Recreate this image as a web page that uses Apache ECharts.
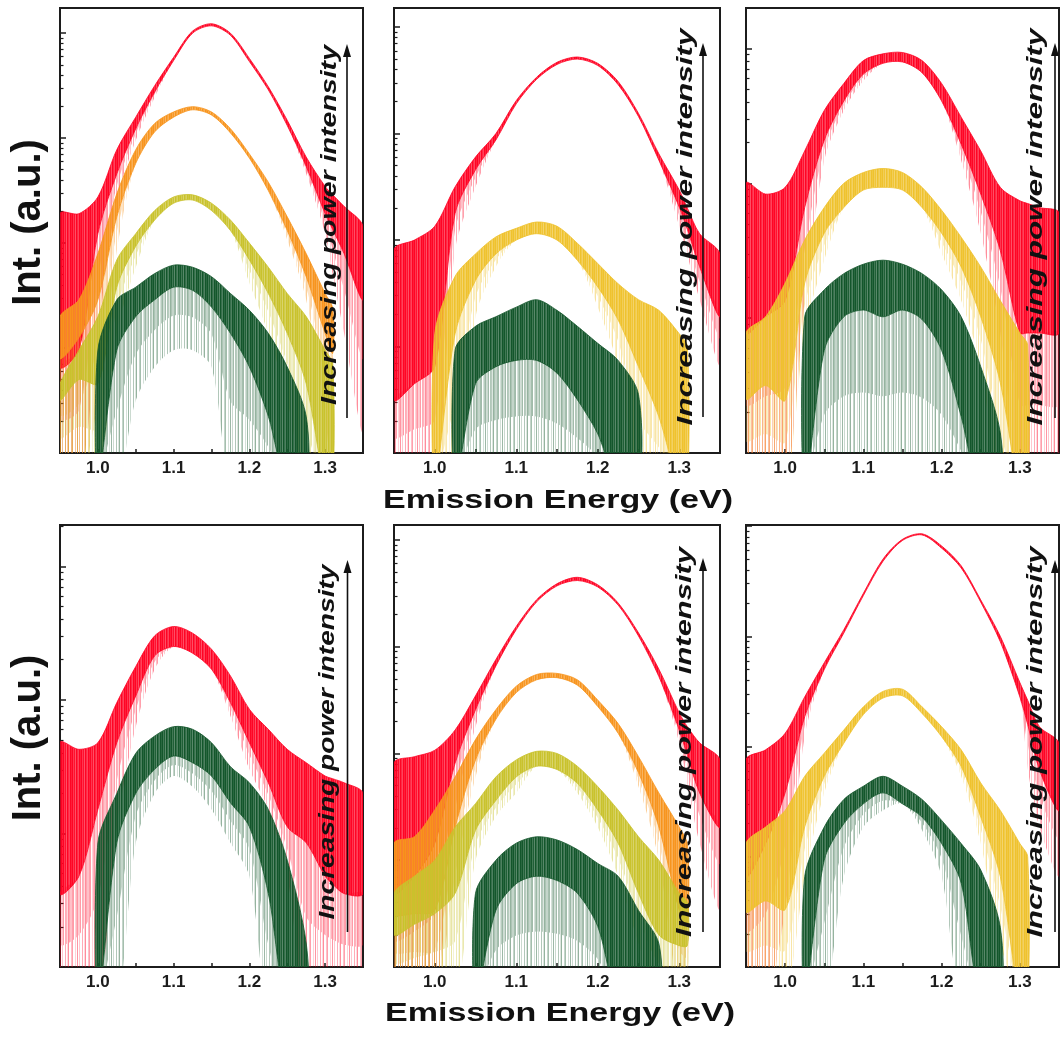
<!DOCTYPE html>
<html>
<head>
<meta charset="utf-8">
<script src="https://cdn.jsdelivr.net/npm/echarts@6/dist/echarts.min.js"></script>
<style>
  html, body { margin: 0; padding: 0; background: #fff; }
  #chart { width: 1062px; height: 1038px; }
</style>
</head>
<body>
<div id="chart"></div>
<script>
// Emission energy grid (eV) shared by every spectrum
const energy = [0.95, 0.975, 1.0, 1.025, 1.05, 1.075, 1.1, 1.125, 1.15, 1.175, 1.2, 1.225, 1.25, 1.275, 1.3, 1.31, 1.325, 1.35];
const xTickLabels = ['1.0', '1.1', '1.2', '1.3'];

// Intensities as log10(counts). "Hi"/"Lo" bound the dense part of each trace,
// "Tail" is how far the noise spikes reach below it (null = no spikes).
// Panel a
const aRedHi    = [2.28, 2.28, 2.44, 2.89, 3.20, 3.50, 3.77, 4.02, 4.09, 4.00, 3.76, 3.49, 3.17, 2.82, 2.54, 2.46, 2.35, 2.16];
const aRedLo    = [0.82, 0.98, 2.09, 2.66, 3.09, 3.44, 3.74, 4.00, 4.07, 3.98, 3.73, 3.46, 3.12, 2.73, 2.28, 2.13, 1.90, 1.46];
const aRedTail  = [-0.3, -0.3, 1.14, 2.41, 2.98, 3.39, null, null, null, null, null, null, null, 2.66, 2.09, 1.70, 1.14, 0.19];
const aOrangeHi   = [1.30, 1.46, 1.90, 2.47, 2.89, 3.14, 3.25, 3.30, 3.25, 3.09, 2.85, 2.58, 2.25, 1.90, 1.52, 1.38, null, null];
const aOrangeLo   = [0.90, 1.10, 1.46, 2.25, 2.76, 3.06, 3.20, 3.27, 3.22, 3.05, 2.81, 2.50, 2.12, 1.68, 1.14, 0.95, null, null];
const aOrangeTail = [-0.3, -0.3, 0.50, 1.93, null, null, null, null, null, null, null, null, 2.03, 1.46, 0.35, -0.3, null, null];
const aOliveHi   = [0.66, 0.98, 1.30, 1.84, 2.09, 2.31, 2.44, 2.46, 2.38, 2.22, 2.00, 1.77, 1.52, 1.30, 0.98, 0.85, null, null];
const aOliveLo   = [0.50, 0.70, 0.66, 1.58, 1.97, 2.22, 2.38, 2.41, 2.31, 2.12, 1.84, 1.52, 1.14, 0.66, -0.3, -0.3, null, null];
const aOliveTail = [-0.3, -0.3, -0.3, 1.14, 1.77, null, null, null, null, null, 1.62, 1.14, 0.50, -0.3, -0.3, -0.3, null, null];
const aGreenHi   = [null, null, 0.98, 1.46, 1.58, 1.71, 1.79, 1.77, 1.68, 1.52, 1.36, 1.14, 0.82, 0.35, null, null, null, null];
const aGreenLo   = [null, null, -0.3, 0.98, 1.30, 1.46, 1.58, 1.55, 1.39, 1.14, 0.82, 0.35, -0.3, -0.3, null, null, null, null];
const aGreenTail = [null, null, -0.3, -0.3, 0.50, 0.82, 0.98, 0.98, 0.82, -0.3, -0.3, -0.3, -0.3, -0.3, null, null, null, null];

// Panel b
const bRedHi    = [1.91, 2.00, 2.13, 2.50, 2.78, 3.00, 3.31, 3.53, 3.67, 3.72, 3.66, 3.49, 3.19, 2.81, 2.47, 2.30, 2.06, 1.87];
const bRedLo    = [0.50, 0.65, 0.81, 2.25, 2.66, 2.94, 3.28, 3.51, 3.65, 3.70, 3.64, 3.46, 3.16, 2.75, 2.31, 2.10, 1.75, 1.28];
const bRedTail  = [-0.3, -0.3, -0.3, 1.91, 2.50, null, null, null, null, null, null, null, null, null, 2.13, 1.85, 1.44, 0.81];
const bGoldHi   = [null, null, 1.12, 1.66, 1.87, 2.03, 2.11, 2.17, 2.13, 1.97, 1.78, 1.59, 1.44, 1.34, 1.12, 1.00, null, null];
const bGoldLo   = [null, null, -0.3, 1.12, 1.62, 1.87, 2.00, 2.06, 2.00, 1.81, 1.56, 1.25, 0.81, 0.34, -0.3, -0.3, null, null];
const bGoldTail = [null, null, -0.3, -0.3, 1.28, 1.75, null, null, null, null, 1.37, 0.81, -0.3, -0.3, -0.3, -0.3, null, null];
const bGreenHi   = [null, null, null, 0.97, 1.19, 1.28, 1.37, 1.44, 1.34, 1.19, 1.03, 0.87, 0.55, null, null, null, null, null];
const bGreenLo   = [null, null, null, -0.3, 0.65, 0.81, 0.87, 0.87, 0.75, 0.50, 0.18, -0.3, -0.3, null, null, null, null, null];
const bGreenTail = [null, null, null, -0.3, -0.3, -0.3, -0.3, -0.3, -0.3, -0.3, -0.3, -0.3, -0.3, null, null, null, null, null];

// Panel c
const cRedHi    = [2.00, 1.92, 1.97, 2.24, 2.54, 2.74, 2.91, 2.96, 2.97, 2.91, 2.74, 2.49, 2.24, 1.97, 1.87, 1.85, 1.82, 1.78];
const cRedLo    = [0.89, 1.01, 1.13, 1.82, 2.32, 2.61, 2.81, 2.89, 2.90, 2.82, 2.61, 2.29, 1.92, 1.50, 0.89, 0.89, 0.89, 0.89];
const cRedTail  = [-0.3, -0.3, -0.3, 1.13, 2.17, 2.54, 2.76, null, null, null, null, 2.17, 1.63, 0.89, -0.3, -0.3, -0.3, -0.3];
const cGoldHi   = [0.89, 1.01, 1.26, 1.58, 1.82, 2.00, 2.08, 2.11, 2.08, 1.97, 1.80, 1.60, 1.38, 1.13, 0.89, 0.80, null, null];
const cGoldLo   = [0.40, 0.50, 0.39, 1.26, 1.63, 1.82, 1.95, 1.97, 1.95, 1.82, 1.63, 1.38, 1.01, 0.52, -0.3, -0.3, null, null];
const cGoldTail = [-0.3, -0.3, -0.3, 0.89, 1.43, null, null, null, null, null, 1.48, 1.13, 0.64, -0.3, -0.3, -0.3, null, null];
const cGreenHi   = [null, null, null, 1.01, 1.21, 1.33, 1.40, 1.43, 1.40, 1.33, 1.21, 1.01, 0.64, 0.15, null, null, null, null];
const cGreenLo   = [null, null, null, -0.3, 0.76, 1.01, 1.06, 1.01, 1.06, 0.99, 0.76, 0.27, -0.3, -0.3, null, null, null, null];
const cGreenTail = [null, null, null, -0.3, -0.3, -0.3, -0.3, -0.3, -0.3, -0.3, -0.3, -0.3, -0.3, -0.3, null, null, null, null];

// Panel d
const dRedHi    = [1.68, 1.63, 1.68, 1.98, 2.25, 2.48, 2.55, 2.50, 2.38, 2.18, 1.93, 1.78, 1.63, 1.53, 1.43, 1.41, 1.38, 1.30];
const dRedLo    = [0.55, 0.68, 1.18, 1.68, 2.03, 2.33, 2.40, 2.35, 2.23, 1.98, 1.68, 1.38, 1.05, 0.93, 0.68, 0.62, 0.55, 0.55];
const dRedTail  = [-0.3, -0.3, -0.3, 1.05, 1.80, 2.23, null, null, null, 1.88, 1.48, 1.18, 0.68, -0.3, -0.3, -0.3, -0.3, -0.3];
const dGreenHi   = [null, null, 0.93, 1.30, 1.60, 1.73, 1.80, 1.78, 1.68, 1.50, 1.38, 1.18, 0.80, 0.18, null, null, null, null];
const dGreenLo   = [null, null, -0.3, 0.93, 1.30, 1.48, 1.58, 1.53, 1.43, 1.23, 1.05, 0.55, -0.3, -0.3, null, null, null, null];
const dGreenTail = [null, null, -0.3, -0.3, 0.93, 1.30, 1.43, 1.35, 1.18, 0.93, 0.68, -0.3, -0.3, -0.3, null, null, null, null];

// Panel e
const eRedHi    = [1.91, 1.97, 2.03, 2.22, 2.54, 2.88, 3.19, 3.44, 3.59, 3.65, 3.58, 3.41, 3.13, 2.79, 2.38, 2.25, 2.10, 1.94];
const eRedLo    = [0.69, 0.85, 1.16, 1.91, 2.41, 2.82, 3.16, 3.42, 3.57, 3.62, 3.56, 3.39, 3.10, 2.72, 2.22, 1.98, 1.63, 1.31];
const eRedTail  = [-0.3, -0.3, -0.3, 1.47, 2.25, null, null, null, null, null, null, null, null, null, 2.10, 1.70, 1.16, 0.53];
const eOrangeHi   = [1.16, 1.22, 1.47, 1.78, 2.13, 2.41, 2.63, 2.74, 2.75, 2.69, 2.50, 2.28, 1.97, 1.63, 1.31, 1.15, null, null];
const eOrangeLo   = [0.50, 0.50, 0.53, 1.31, 1.94, 2.32, 2.57, 2.69, 2.71, 2.64, 2.44, 2.19, 1.82, 1.31, 0.53, 0.40, null, null];
const eOrangeTail = [-0.3, -0.3, -0.3, 0.85, 1.78, null, null, null, null, null, null, null, 1.69, 1.00, -0.3, -0.3, null, null];
const eOliveHi   = [0.69, 0.85, 1.00, 1.31, 1.53, 1.78, 1.94, 2.02, 2.00, 1.88, 1.69, 1.47, 1.22, 1.00, 0.69, 0.60, null, null];
const eOliveLo   = [0.30, 0.40, 0.50, 0.69, 1.28, 1.56, 1.78, 1.88, 1.85, 1.72, 1.47, 1.16, 0.69, 0.30, 0.20, 0.20, null, null];
const eOliveTail = [-0.3, -0.3, -0.3, -0.3, 1.00, 1.41, 1.63, null, null, 1.63, 1.31, 0.85, 0.22, -0.3, -0.3, -0.3, null, null];
const eGreenHi   = [null, null, null, null, 0.69, 1.00, 1.16, 1.22, 1.19, 1.10, 0.97, 0.85, 0.53, 0.22, null, null, null, null];
const eGreenLo   = [null, null, null, null, -0.3, 0.53, 0.78, 0.85, 0.81, 0.69, 0.38, -0.3, -0.3, -0.3, null, null, null, null];
const eGreenTail = [null, null, null, null, -0.3, -0.3, -0.3, -0.3, -0.3, -0.3, -0.3, -0.3, -0.3, -0.3, null, null, null, null];

// Panel f
const fRedHi    = [1.88, 1.97, 2.12, 2.45, 2.76, 3.06, 3.39, 3.70, 3.88, 3.93, 3.82, 3.64, 3.33, 3.00, 2.58, 2.42, 2.18, 2.03];
const fRedLo    = [0.82, 1.12, 1.58, 2.27, 2.70, 3.03, 3.37, 3.68, 3.87, 3.92, 3.80, 3.62, 3.31, 2.95, 2.45, 2.20, 1.79, 1.42];
const fRedTail  = [-0.3, -0.3, 0.52, 2.09, null, null, null, null, null, null, null, null, null, null, null, 1.80, 1.27, 0.82];
const fGoldHi   = [1.12, 1.27, 1.42, 1.73, 1.94, 2.15, 2.36, 2.50, 2.52, 2.36, 2.18, 1.97, 1.67, 1.42, 1.12, 1.00, null, null];
const fGoldLo   = [0.50, 0.60, 0.52, 1.27, 1.73, 2.03, 2.29, 2.44, 2.46, 2.30, 2.09, 1.82, 1.36, 0.82, -0.3, -0.3, null, null];
const fGoldTail = [-0.3, -0.3, -0.3, 0.82, 1.58, null, null, null, null, null, null, 1.73, 1.12, 0.21, -0.3, -0.3, null, null];
const fGreenHi   = [null, null, null, 0.82, 1.27, 1.52, 1.64, 1.73, 1.64, 1.52, 1.33, 1.12, 0.88, 0.36, null, null, null, null];
const fGreenLo   = [null, null, null, -0.3, 0.97, 1.30, 1.48, 1.58, 1.48, 1.36, 1.12, 0.76, -0.3, -0.3, null, null, null, null];
const fGreenTail = [null, null, null, -0.3, -0.3, 0.82, 1.27, 1.42, null, 1.24, 0.82, -0.3, -0.3, -0.3, null, null, null, null];

// ---- styling & layout ----
const FONT = '"Liberation Sans", Arial, Helvetica, sans-serif';
const INK = '#1c1c1c';
const palette = {
  red: '#ff0424', orange: '#f7941d', olive: '#c9c22c', gold: '#efc22d', green: '#13562b'
};

const panels = [
  { grid: { left: 60,  top: 8,   width: 303, height: 445 }, yMax: 4.24,
    arrow: { x: 347, tip: 44, tail: 418 }, note: { x: 330, cy: 225, len: 360 },
    curves: [
      { color: 'red', hi: aRedHi, lo: aRedLo, tail: aRedTail },
      { color: 'orange', hi: aOrangeHi, lo: aOrangeLo, tail: aOrangeTail },
      { color: 'olive', hi: aOliveHi, lo: aOliveLo, tail: aOliveTail },
      { color: 'green', hi: aGreenHi, lo: aGreenLo, tail: aGreenTail }
    ] },
  { grid: { left: 394, top: 8,   width: 326, height: 445 }, yMax: 4.18,
    arrow: { x: 703, tip: 43, tail: 417 }, note: { x: 686, cy: 227, len: 397 },
    curves: [
      { color: 'red', hi: bRedHi, lo: bRedLo, tail: bRedTail },
      { color: 'gold', hi: bGoldHi, lo: bGoldLo, tail: bGoldTail },
      { color: 'green', hi: bGreenHi, lo: bGreenLo, tail: bGreenTail }
    ] },
  { grid: { left: 746, top: 8,   width: 326, height: 445 }, yMax: 3.30,
    arrow: { x: 1055, tip: 43, tail: 418 }, note: { x: 1036, cy: 227, len: 397 },
    curves: [
      { color: 'red', hi: cRedHi, lo: cRedLo, tail: cRedTail },
      { color: 'gold', hi: cGoldHi, lo: cGoldLo, tail: cGoldTail },
      { color: 'green', hi: cGreenHi, lo: cGreenLo, tail: cGreenTail }
    ] },
  { grid: { left: 60,  top: 525, width: 303, height: 442 }, yMax: 3.31,
    arrow: { x: 347.5, tip: 560, tail: 932 }, note: { x: 328, cy: 742, len: 355 },
    curves: [
      { color: 'red', hi: dRedHi, lo: dRedLo, tail: dRedTail },
      { color: 'green', hi: dGreenHi, lo: dGreenLo, tail: dGreenTail }
    ] },
  { grid: { left: 394, top: 525, width: 326, height: 442 }, yMax: 4.14,
    arrow: { x: 703, tip: 558, tail: 932 }, note: { x: 685, cy: 742, len: 390 },
    curves: [
      { color: 'red', hi: eRedHi, lo: eRedLo, tail: eRedTail },
      { color: 'orange', hi: eOrangeHi, lo: eOrangeLo, tail: eOrangeTail },
      { color: 'olive', hi: eOliveHi, lo: eOliveLo, tail: eOliveTail },
      { color: 'green', hi: eGreenHi, lo: eGreenLo, tail: eGreenTail }
    ] },
  { grid: { left: 746, top: 525, width: 326, height: 442 }, yMax: 4.01,
    arrow: { x: 1055, tip: 560, tail: 932 }, note: { x: 1036, cy: 742, len: 391 },
    curves: [
      { color: 'red', hi: fRedHi, lo: fRedLo, tail: fRedTail },
      { color: 'gold', hi: fGoldHi, lo: fGoldLo, tail: fGoldTail },
      { color: 'green', hi: fGreenHi, lo: fGreenLo, tail: fGreenTail }
    ] }
];

// Striped fills: vertical hairlines of varying strength that read as detector noise
function stripes(color, cols, width) {
  const c = document.createElement('canvas');
  c.width = width; c.height = 4;
  const g = c.getContext('2d');
  g.fillStyle = color;
  cols.forEach(([x, a]) => { g.globalAlpha = a; g.fillRect(x, 0, 1, 4); });
  return { image: c, repeat: 'repeat' };
}
const coreCols  = [[0, 1], [1, 0.8], [2, 0.95], [3, 0.7], [4, 1], [5, 0.85], [6, 0.75], [7, 1], [8, 0.9]];
const tailCols  = [[0, 0.45], [3, 0.25], [4, 0.38], [7, 0.18], [9, 0.42], [11, 0.22], [14, 0.33], [16, 0.15]];
const innerCols = [[1, 0.35], [2, 0.25], [5, 0.4], [8, 0.3], [10, 0.2], [12, 0.4], [15, 0.3]];
const fills = {};
Object.keys(palette).forEach(k => {
  fills[k] = {
    core: stripes(palette[k], coreCols, 9),
    tail: stripes(palette[k], tailCols, 17),
    inner: stripes(palette[k], innerCols, 17)
  };
});

function measure(font, text) {
  const g = document.createElement('canvas').getContext('2d');
  g.font = font;
  return g.measureText(text).width;
}

// A filled band between two log10-intensity edges, drawn through the axes.
// depth < 1 keeps only the upper part of the band (denser part of the spikes).
function bandSeries(gi, curve, upperKey, lowerKey, fill, stroke, depth) {
  const first = curve.hi.findIndex(v => v != null);
  return {
    type: 'custom',
    xAxisIndex: gi, yAxisIndex: gi,
    clip: true, silent: true,
    data: [[energy[first], 1]],
    renderItem: (params, api) => {
      const top = [], bottom = [];
      for (let i = 0; i < energy.length; i++) {
        if (curve.hi[i] == null) continue;
        const up = curve[upperKey][i];
        let low = curve[lowerKey][i] == null ? up : curve[lowerKey][i];
        if (depth != null) low = up - (up - low) * depth;
        top.push(api.coord([energy[i], Math.pow(10, up)]));
        bottom.push(api.coord([energy[i], Math.pow(10, low)]));
      }
      return {
        type: 'polygon',
        shape: { points: top.concat(bottom.reverse()), smooth: 0.3 },
        style: stroke ? { fill, stroke, lineWidth: 0.8 } : { fill }
      };
    }
  };
}

const grids = [], xAxes = [], yAxes = [], series = [];
panels.forEach((p, gi) => {
  grids.push(Object.assign({ show: true, borderColor: INK, borderWidth: 2, backgroundColor: 'transparent' }, p.grid));
  xAxes.push({
    gridIndex: gi, type: 'value', min: 0.95, max: 1.35, interval: 0.05,
    axisLine: { onZero: false, lineStyle: { color: INK, width: 2 } },
    axisTick: { inside: true, length: 4, lineStyle: { color: INK, width: 1.5 } },
    axisLabel: {
      margin: 7, fontSize: 17, fontWeight: 'bold', fontFamily: FONT, color: INK,
      formatter: v => {
        const s = v.toFixed(2);
        return (s.endsWith('0') && xTickLabels.includes(v.toFixed(1))) ? v.toFixed(1) : '';
      }
    },
    splitLine: { show: false }
  });
  yAxes.push({
    gridIndex: gi, type: 'log', logBase: 10, min: 1, max: Math.pow(10, p.yMax),
    axisLine: { lineStyle: { color: INK, width: 2 } },
    axisTick: { inside: true, length: 6, lineStyle: { color: INK, width: 1.5 } },
    minorTick: { show: true, splitNumber: 9, length: 3.5, lineStyle: { color: INK, width: 1.2 } },
    axisLabel: { show: false },
    splitLine: { show: false }
  });
  p.curves.forEach(c => {
    const f = fills[c.color];
    series.push(bandSeries(gi, c, 'lo', 'tail', f.tail, null));
    series.push(bandSeries(gi, c, 'lo', 'tail', f.inner, null, 0.45));
    series.push(bandSeries(gi, c, 'hi', 'lo', f.core, palette[c.color]));
  });
});

// Titles, annotations and arrows
const graphics = [];
[222.5, 738].forEach(cy => graphics.push({
  type: 'text', x: 29, y: cy, rotation: Math.PI / 2, z: 100,
  style: { text: 'Int. (a.u.)', fontSize: 40, fontWeight: 'bold', fontFamily: FONT, fill: '#111',
           align: 'center', verticalAlign: 'middle', textAlign: 'center', textVerticalAlign: 'middle' }
}));
const xTitleW = measure('bold 26px ' + FONT, 'Emission Energy (eV)');
[[558, 500.7], [560, 1014.3]].forEach(([cx, cy]) => graphics.push({
  type: 'text', x: cx, y: cy, scaleX: 350 / xTitleW, z: 100,
  style: { text: 'Emission Energy (eV)', fontSize: 26, fontWeight: 'bold', fontFamily: FONT, fill: '#111',
           align: 'center', verticalAlign: 'middle', textAlign: 'center', textVerticalAlign: 'middle' }
}));
const noteText = 'Increasing power intensity';
const noteW = measure('italic bold 22px ' + FONT, noteText);
panels.forEach(p => {
  graphics.push({
    type: 'text', x: p.note.x, y: p.note.cy, rotation: Math.PI / 2, scaleX: p.note.len / noteW, z: 100,
    style: { text: noteText, fontSize: 22, fontStyle: 'italic', fontWeight: 'bold', fontFamily: FONT, fill: '#111',
             align: 'center', verticalAlign: 'middle', textAlign: 'center', textVerticalAlign: 'middle' }
  });
  const a = p.arrow;
  graphics.push({
    type: 'line', z: 100,
    shape: { x1: a.x, y1: a.tail, x2: a.x, y2: a.tip + 10 },
    style: { stroke: '#111', lineWidth: 1.6 }
  });
  graphics.push({
    type: 'polygon', z: 100,
    shape: { points: [[a.x, a.tip], [a.x - 4, a.tip + 13], [a.x + 4, a.tip + 13]] },
    style: { fill: '#111' }
  });
});

const chart = echarts.init(document.getElementById('chart'), null, { renderer: 'canvas' });
chart.setOption({
  animation: false,
  backgroundColor: '#ffffff',
  grid: grids,
  xAxis: xAxes,
  yAxis: yAxes,
  series: series,
  graphic: graphics
});
</script>
</body>
</html>
